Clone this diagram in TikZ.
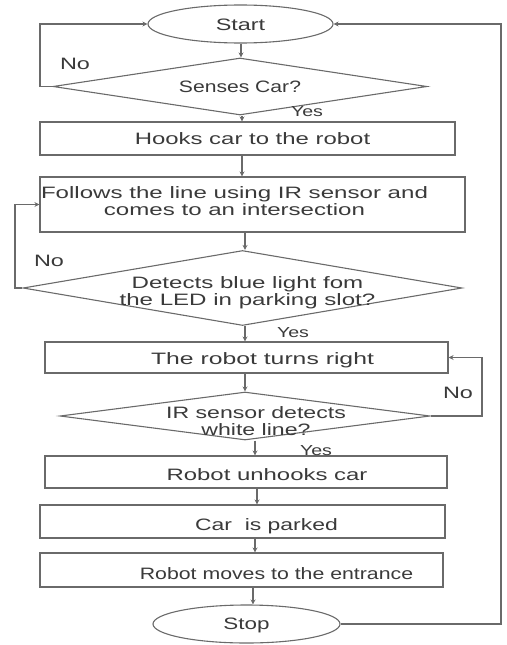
\documentclass[tikz,border=0pt]{standalone}
\usepackage{fontspec}
\usepackage{graphicx}
\setmainfont{Liberation Sans}
\usetikzlibrary{shapes.geometric,arrows.meta}

% horizontally widened text block (one or more centred lines)
\newcommand{\wtext}[2][1.42]{\scalebox{#1}[1]{\begin{tabular}{@{}c@{}}#2\end{tabular}}}

\definecolor{inkline}{HTML}{6A6A6A}
\definecolor{inktext}{HTML}{3A3A3A}

\begin{document}
\begin{tikzpicture}[x=1pt,y=-1pt,
  shapeline/.style={draw=inkline,line width=1.1pt,inner sep=0pt},
  terminal/.style={shapeline,ellipse,minimum width=#1,minimum height=38pt},
  stepbox/.style={shapeline,rectangle,minimum width=#1},
  decision/.style={shapeline,diamond,minimum width=#1},
  txt/.style={text=inktext,font={\fontsize{16.5}{17}\selectfont},inner sep=0pt},
  small/.style={text=inktext,font={\fontsize{14.5}{16}\selectfont},inner sep=0pt},
  arr/.style={draw=inkline,line width=1.1pt,-{Stealth[length=5pt,width=5pt]}},
  link/.style={draw=inkline,line width=1.1pt}]

\useasboundingbox (0,0) rectangle (506,645);

% process nodes
\node[terminal=185pt,label={[txt,yshift=-3.5pt]center:\wtext{Start}}] (start) at (240.5,24) {};
\node[decision=374pt,minimum height=57pt,label={[txt,yshift=-2.5pt]center:\wtext[1.28]{Senses Car?}}] (d1) at (240,86.5) {};
\node[stepbox=415pt,minimum height=33pt,label={[txt,xshift=5pt,yshift=-3pt]center:\wtext[1.45]{Hooks car to the robot}}] (b1) at (247.5,138.5) {};
\node[stepbox=425pt,minimum height=55pt,label={[txt,xshift=-18pt,yshift=1pt]center:\wtext[1.46]{Follows the line using IR sensor and\\comes to an intersection}}] (b2) at (252.5,204.5) {};
\node[decision=439pt,minimum height=75pt,label={[txt,xshift=5pt,yshift=-6pt]center:\wtext[1.46]{Detects blue light fom\\the LED in parking slot?}}] (d2) at (242.5,288) {};
\node[stepbox=403pt,minimum height=31pt,label={[txt,xshift=16pt,yshift=-3.5pt]center:\wtext[1.5]{The robot turns right}}] (b3) at (246.5,357.5) {};
\node[decision=370pt,minimum height=48pt,label={[txt,xshift=11pt,yshift=-7.5pt]center:\wtext[1.4]{IR sensor detects\\white line?}}] (d3) at (245,416) {};
\node[stepbox=402pt,minimum height=32pt,label={[txt,xshift=21pt,yshift=-5.5pt]center:\wtext[1.45]{Robot unhooks car}}] (b4) at (246,472) {};
\node[stepbox=405pt,minimum height=33pt,label={[txt,xshift=24pt,yshift=-5.5pt]center:\wtext[1.39]{Car\ \ is parked}}] (b5) at (242.5,521.5) {};
\node[stepbox=403pt,minimum height=34pt,label={[txt,xshift=35pt,yshift=-6pt]center:\wtext[1.29]{Robot moves to the entrance}}] (b6) at (241.5,570) {};
\node[terminal=187pt,label={[txt,yshift=-2pt]center:\wtext[1.36]{Stop}}] (stop) at (246.5,624) {};

% branch labels
\node[txt,yshift=-3pt] (no1) at (75,63) {\wtext{No}};
\node[small,yshift=-3pt] (yes1) at (307,110) {\wtext[1.35]{Yes}};
\node[txt,yshift=-3pt] (no2) at (49,260) {\wtext{No}};
\node[small,yshift=-3pt] (yes2) at (293,331) {\wtext[1.35]{Yes}};
\node[txt,yshift=-3pt] (no3) at (458,392) {\wtext{No}};
\node[small,yshift=-3pt] (yes3) at (316,449) {\wtext[1.35]{Yes}};

% main flow
\draw[arr] (start.south -| 241,0) -- (d1.north -| 241,0);
\draw[arr] (d1.south -| 242,0) -- (b1.north -| 242,0);
\draw[arr] (b1.south -| 242,0) -- (b2.north -| 242,0);
\draw[arr] (b2.south -| 245,0) -- (d2.north -| 245,0);
\draw[arr] (d2.south -| 245,0) -- (b3.north -| 245,0);
\draw[arr] (b3.south -| 245,0) -- (d3.north -| 245,0);
\draw[arr] (d3.south -| 255,0) -- (b4.north -| 255,0);
\draw[arr] (b4.south -| 257,0) -- (b5.north -| 257,0);
\draw[arr] (b5.south -| 255,0) -- (b6.north -| 255,0);
\draw[arr] (b6.south -| 253,0) -- (stop.north -| 253,0);

% loops back on "No"
\draw[arr] (d1.west) -- (d1.west -| 40,0) |- (start.west);
\draw[arr] (d2.west) -- (d2.west -| 15,0) |- (b2.west);
\draw[arr] (d3.east) -- (d3.east -| 482,0) |- (b3.east);

% return from Stop to Start
\draw[arr] (stop.east) -- (stop.east -| 501,0) |- (start.east);
\end{tikzpicture}
\end{document}
